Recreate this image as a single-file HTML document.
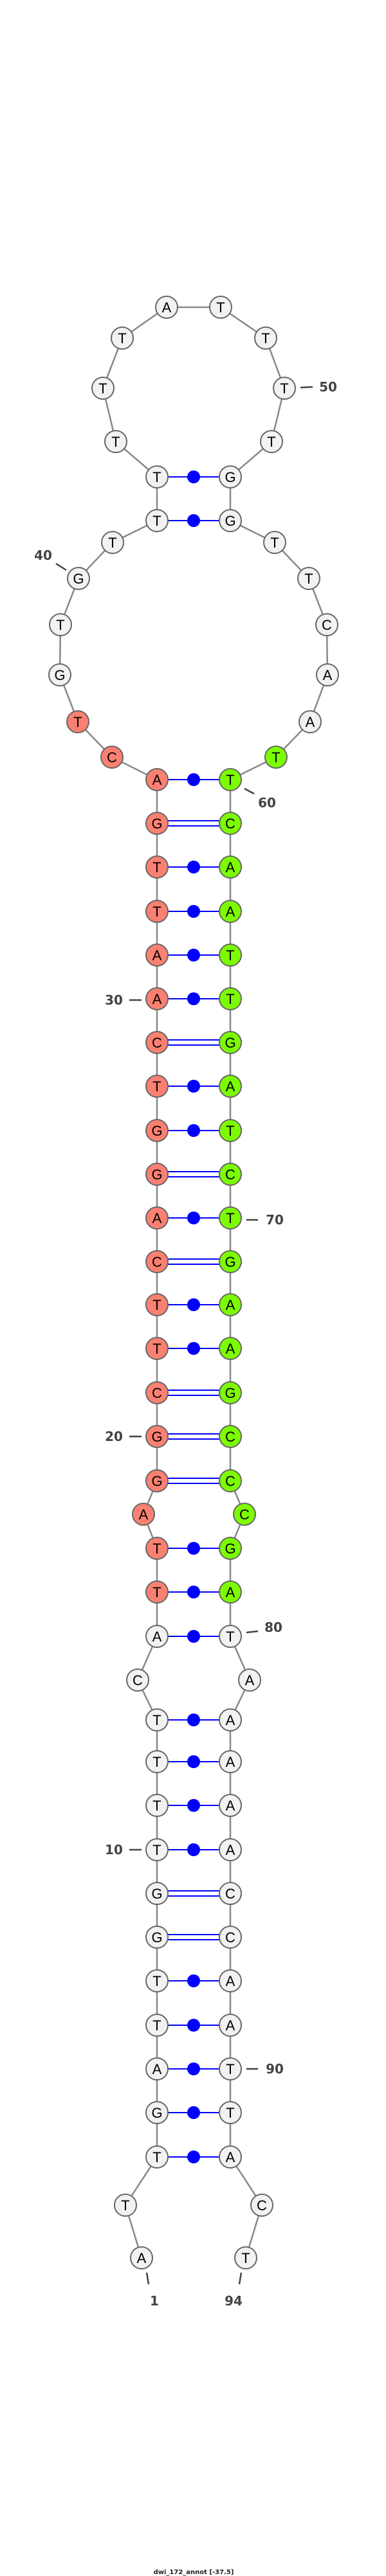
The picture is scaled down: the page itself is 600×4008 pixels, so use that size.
<!DOCTYPE html>
<html><head><meta charset="utf-8"><style>
html,body{margin:0;padding:0;background:#fff}
svg{display:block}
.n{stroke:#666;stroke-width:2}
.w{fill:#f2f2f2}.r{fill:#fa8072}.g{fill:#7cfc00}
.t{font-family:"Liberation Sans",sans-serif;font-size:22px;text-anchor:middle;fill:#000}
.l{font-family:"DejaVu Sans","Liberation Sans",sans-serif;font-size:20px;font-weight:bold;fill:#444;text-anchor:middle}
.p{stroke:#0000ff;stroke-width:2}
</style></head><body>
<svg width="600" height="4008" viewBox="0 0 600 4008" xmlns="http://www.w3.org/2000/svg">
<polyline fill="none" stroke="#888" stroke-width="2.5" points="220,3513 195,3431 244,3356 244,2676 214,2614 244,2546 244,2409 223,2356 244,2304 244,1213 174,1178 121,1123 93,1050 94,972 122,900 175,844 244,810 244,742 180,687 160,604 190,526 259,478 343,478 413,526 442,604 422,687 358,742 358,810 427,844 480,900 508,972 509,1050 482,1123 429,1178 358,1213 358,2304 380,2356 358,2409 358,2546 388,2614 358,2676 358,3356 407,3431 382,3513"/>
<g class="p">
<line x1="244" y1="742" x2="358" y2="742"/><line x1="244" y1="810" x2="358" y2="810"/>
<line x1="244" y1="1213" x2="358" y2="1213"/>
<line x1="244" y1="1277" x2="358" y2="1277"/><line x1="244" y1="1285" x2="358" y2="1285"/>
<line x1="244" y1="1349" x2="358" y2="1349"/><line x1="244" y1="1418" x2="358" y2="1418"/>
<line x1="244" y1="1486" x2="358" y2="1486"/><line x1="244" y1="1554" x2="358" y2="1554"/>
<line x1="244" y1="1618" x2="358" y2="1618"/><line x1="244" y1="1626" x2="358" y2="1626"/>
<line x1="244" y1="1690" x2="358" y2="1690"/><line x1="244" y1="1759" x2="358" y2="1759"/>
<line x1="244" y1="1823" x2="358" y2="1823"/><line x1="244" y1="1831" x2="358" y2="1831"/>
<line x1="244" y1="1895" x2="358" y2="1895"/>
<line x1="244" y1="1959" x2="358" y2="1959"/><line x1="244" y1="1967" x2="358" y2="1967"/>
<line x1="244" y1="2030" x2="358" y2="2030"/><line x1="244" y1="2098" x2="358" y2="2098"/>
<line x1="244" y1="2163" x2="358" y2="2163"/><line x1="244" y1="2171" x2="358" y2="2171"/>
<line x1="244" y1="2231" x2="358" y2="2231"/><line x1="244" y1="2239" x2="358" y2="2239"/>
<line x1="244" y1="2300" x2="358" y2="2300"/><line x1="244" y1="2308" x2="358" y2="2308"/>
<line x1="244" y1="2409" x2="358" y2="2409"/><line x1="244" y1="2477" x2="358" y2="2477"/>
<line x1="244" y1="2546" x2="358" y2="2546"/><line x1="244" y1="2676" x2="358" y2="2676"/>
<line x1="244" y1="2741" x2="358" y2="2741"/><line x1="244" y1="2809" x2="358" y2="2809"/>
<line x1="244" y1="2878" x2="358" y2="2878"/>
<line x1="244" y1="2942" x2="358" y2="2942"/><line x1="244" y1="2950" x2="358" y2="2950"/>
<line x1="244" y1="3010" x2="358" y2="3010"/><line x1="244" y1="3018" x2="358" y2="3018"/>
<line x1="244" y1="3082" x2="358" y2="3082"/><line x1="244" y1="3151" x2="358" y2="3151"/>
<line x1="244" y1="3219" x2="358" y2="3219"/><line x1="244" y1="3287" x2="358" y2="3287"/>
<line x1="244" y1="3356" x2="358" y2="3356"/>
</g>
<g fill="#0000ff">
<circle cx="301" cy="742" r="10"/><circle cx="301" cy="810" r="10"/>
<circle cx="301" cy="1213" r="10"/><circle cx="301" cy="1349" r="10"/><circle cx="301" cy="1418" r="10"/>
<circle cx="301" cy="1486" r="10"/><circle cx="301" cy="1554" r="10"/><circle cx="301" cy="1690" r="10"/>
<circle cx="301" cy="1759" r="10"/><circle cx="301" cy="1895" r="10"/><circle cx="301" cy="2030" r="10"/>
<circle cx="301" cy="2098" r="10"/><circle cx="301" cy="2409" r="10"/><circle cx="301" cy="2477" r="10"/>
<circle cx="301" cy="2546" r="10"/><circle cx="301" cy="2676" r="10"/><circle cx="301" cy="2741" r="10"/>
<circle cx="301" cy="2809" r="10"/><circle cx="301" cy="2878" r="10"/><circle cx="301" cy="3082" r="10"/>
<circle cx="301" cy="3151" r="10"/><circle cx="301" cy="3219" r="10"/><circle cx="301" cy="3287" r="10"/>
<circle cx="301" cy="3356" r="10"/>
</g>
<g class="n">
<circle class="w" cx="220" cy="3513" r="17"/><circle class="w" cx="195" cy="3431" r="17"/>
<circle class="w" cx="244" cy="3356" r="17"/><circle class="w" cx="244" cy="3287" r="17"/><circle class="w" cx="244" cy="3219" r="17"/><circle class="w" cx="244" cy="3151" r="17"/><circle class="w" cx="244" cy="3082" r="17"/><circle class="w" cx="244" cy="3014" r="17"/><circle class="w" cx="244" cy="2946" r="17"/><circle class="w" cx="244" cy="2878" r="17"/><circle class="w" cx="244" cy="2809" r="17"/><circle class="w" cx="244" cy="2741" r="17"/><circle class="w" cx="244" cy="2676" r="17"/>
<circle class="w" cx="214" cy="2614" r="17"/><circle class="w" cx="244" cy="2546" r="17"/>
<circle class="r" cx="244" cy="2477" r="17"/><circle class="r" cx="244" cy="2409" r="17"/><circle class="r" cx="223" cy="2356" r="17"/>
<circle class="r" cx="244" cy="2304" r="17"/><circle class="r" cx="244" cy="2235" r="17"/><circle class="r" cx="244" cy="2167" r="17"/><circle class="r" cx="244" cy="2098" r="17"/><circle class="r" cx="244" cy="2030" r="17"/><circle class="r" cx="244" cy="1963" r="17"/><circle class="r" cx="244" cy="1895" r="17"/><circle class="r" cx="244" cy="1827" r="17"/><circle class="r" cx="244" cy="1759" r="17"/><circle class="r" cx="244" cy="1690" r="17"/><circle class="r" cx="244" cy="1622" r="17"/><circle class="r" cx="244" cy="1554" r="17"/><circle class="r" cx="244" cy="1486" r="17"/><circle class="r" cx="244" cy="1418" r="17"/><circle class="r" cx="244" cy="1349" r="17"/><circle class="r" cx="244" cy="1281" r="17"/><circle class="r" cx="244" cy="1213" r="17"/>
<circle class="r" cx="174" cy="1178" r="17"/><circle class="r" cx="121" cy="1123" r="17"/>
<circle class="w" cx="93" cy="1050" r="17"/><circle class="w" cx="94" cy="972" r="17"/><circle class="w" cx="122" cy="900" r="17"/><circle class="w" cx="175" cy="844" r="17"/>
<circle class="w" cx="244" cy="810" r="17"/><circle class="w" cx="244" cy="742" r="17"/><circle class="w" cx="180" cy="687" r="17"/><circle class="w" cx="160" cy="604" r="17"/><circle class="w" cx="190" cy="526" r="17"/><circle class="w" cx="259" cy="478" r="17"/>
<circle class="w" cx="343" cy="478" r="17"/><circle class="w" cx="413" cy="526" r="17"/><circle class="w" cx="442" cy="604" r="17"/><circle class="w" cx="422" cy="687" r="17"/><circle class="w" cx="358" cy="742" r="17"/><circle class="w" cx="358" cy="810" r="17"/>
<circle class="w" cx="427" cy="844" r="17"/><circle class="w" cx="480" cy="900" r="17"/><circle class="w" cx="508" cy="972" r="17"/><circle class="w" cx="509" cy="1050" r="17"/><circle class="w" cx="482" cy="1123" r="17"/>
<circle class="g" cx="429" cy="1178" r="17"/>
<circle class="g" cx="358" cy="1213" r="17"/><circle class="g" cx="358" cy="1281" r="17"/><circle class="g" cx="358" cy="1349" r="17"/><circle class="g" cx="358" cy="1418" r="17"/><circle class="g" cx="358" cy="1486" r="17"/><circle class="g" cx="358" cy="1554" r="17"/><circle class="g" cx="358" cy="1622" r="17"/><circle class="g" cx="358" cy="1690" r="17"/><circle class="g" cx="358" cy="1759" r="17"/><circle class="g" cx="358" cy="1827" r="17"/><circle class="g" cx="358" cy="1895" r="17"/><circle class="g" cx="358" cy="1963" r="17"/><circle class="g" cx="358" cy="2030" r="17"/><circle class="g" cx="358" cy="2098" r="17"/><circle class="g" cx="358" cy="2167" r="17"/><circle class="g" cx="358" cy="2235" r="17"/><circle class="g" cx="358" cy="2304" r="17"/>
<circle class="g" cx="380" cy="2356" r="17"/><circle class="g" cx="358" cy="2409" r="17"/><circle class="g" cx="358" cy="2477" r="17"/>
<circle class="w" cx="358" cy="2546" r="17"/><circle class="w" cx="388" cy="2614" r="17"/>
<circle class="w" cx="358" cy="2676" r="17"/><circle class="w" cx="358" cy="2741" r="17"/><circle class="w" cx="358" cy="2809" r="17"/><circle class="w" cx="358" cy="2878" r="17"/><circle class="w" cx="358" cy="2946" r="17"/><circle class="w" cx="358" cy="3014" r="17"/><circle class="w" cx="358" cy="3082" r="17"/><circle class="w" cx="358" cy="3151" r="17"/><circle class="w" cx="358" cy="3219" r="17"/><circle class="w" cx="358" cy="3287" r="17"/><circle class="w" cx="358" cy="3356" r="17"/>
<circle class="w" cx="407" cy="3431" r="17"/><circle class="w" cx="382" cy="3513" r="17"/>
</g>
<g class="t">
<text x="220" y="3521">A</text><text x="195" y="3439">T</text>
<text x="244" y="3364">T</text><text x="244" y="3295">G</text><text x="244" y="3227">A</text><text x="244" y="3159">T</text><text x="244" y="3090">T</text><text x="244" y="3022">G</text><text x="244" y="2954">G</text><text x="244" y="2886">T</text><text x="244" y="2817">T</text><text x="244" y="2749">T</text><text x="244" y="2684">T</text>
<text x="214" y="2622">C</text><text x="244" y="2554">A</text>
<text x="244" y="2485">T</text><text x="244" y="2417">T</text><text x="223" y="2364">A</text>
<text x="244" y="2312">G</text><text x="244" y="2243">G</text><text x="244" y="2175">C</text><text x="244" y="2106">T</text><text x="244" y="2038">T</text><text x="244" y="1971">C</text><text x="244" y="1903">A</text><text x="244" y="1835">G</text><text x="244" y="1767">G</text><text x="244" y="1698">T</text><text x="244" y="1630">C</text><text x="244" y="1562">A</text><text x="244" y="1494">A</text><text x="244" y="1426">T</text><text x="244" y="1357">T</text><text x="244" y="1289">G</text><text x="244" y="1221">A</text>
<text x="174" y="1186">C</text><text x="121" y="1131">T</text>
<text x="93" y="1058">G</text><text x="94" y="980">T</text><text x="122" y="908">G</text><text x="175" y="852">T</text>
<text x="244" y="818">T</text><text x="244" y="750">T</text><text x="180" y="695">T</text><text x="160" y="612">T</text><text x="190" y="534">T</text><text x="259" y="486">A</text>
<text x="343" y="486">T</text><text x="413" y="534">T</text><text x="442" y="612">T</text><text x="422" y="695">T</text><text x="358" y="750">G</text><text x="358" y="818">G</text>
<text x="427" y="852">T</text><text x="480" y="908">T</text><text x="508" y="980">C</text><text x="509" y="1058">A</text><text x="482" y="1131">A</text>
<text x="429" y="1186">T</text>
<text x="358" y="1221">T</text><text x="358" y="1289">C</text><text x="358" y="1357">A</text><text x="358" y="1426">A</text><text x="358" y="1494">T</text><text x="358" y="1562">T</text><text x="358" y="1630">G</text><text x="358" y="1698">A</text><text x="358" y="1767">T</text><text x="358" y="1835">C</text><text x="358" y="1903">T</text><text x="358" y="1971">G</text><text x="358" y="2038">A</text><text x="358" y="2106">A</text><text x="358" y="2175">G</text><text x="358" y="2243">C</text><text x="358" y="2312">C</text>
<text x="380" y="2364">C</text><text x="358" y="2417">G</text><text x="358" y="2485">A</text>
<text x="358" y="2554">T</text><text x="388" y="2622">A</text>
<text x="358" y="2684">A</text><text x="358" y="2749">A</text><text x="358" y="2817">A</text><text x="358" y="2886">A</text><text x="358" y="2954">C</text><text x="358" y="3022">C</text><text x="358" y="3090">A</text><text x="358" y="3159">A</text><text x="358" y="3227">T</text><text x="358" y="3295">T</text><text x="358" y="3364">A</text>
<text x="407" y="3439">C</text><text x="382" y="3521">T</text>
</g>
<g stroke="#444" stroke-width="2.5">
<line x1="467" y1="603" x2="486" y2="602"/>
<line x1="87" y1="877" x2="103" y2="887"/>
<line x1="380" y1="1227" x2="395" y2="1235"/>
<line x1="201" y1="1556" x2="220" y2="1556"/>
<line x1="383" y1="1898" x2="401" y2="1898"/>
<line x1="201" y1="2235" x2="220" y2="2235"/>
<line x1="383" y1="2540" x2="401" y2="2538"/>
<line x1="201" y1="2878" x2="220" y2="2878"/>
<line x1="383" y1="3219" x2="401" y2="3219"/>
<line x1="228" y1="3536" x2="231" y2="3554"/>
<line x1="375" y1="3536" x2="372" y2="3554"/>
</g>
<g class="l">
<text x="510" y="609">50</text>
<text x="67" y="871">40</text>
<text x="415" y="1256">60</text>
<text x="177" y="1563">30</text>
<text x="427" y="1905">70</text>
<text x="177" y="2242">20</text>
<text x="425" y="2539">80</text>
<text x="177" y="2885">10</text>
<text x="427" y="3226">90</text>
<text x="240" y="3587">1</text>
<text x="363" y="3587">94</text>
</g>
<text x="301" y="4005" font-family="DejaVu Sans,Liberation Sans,sans-serif" font-size="10" font-weight="bold" text-anchor="middle" fill="#222">dwi_172_annot [-37.5]</text>
</svg>
</body></html>
